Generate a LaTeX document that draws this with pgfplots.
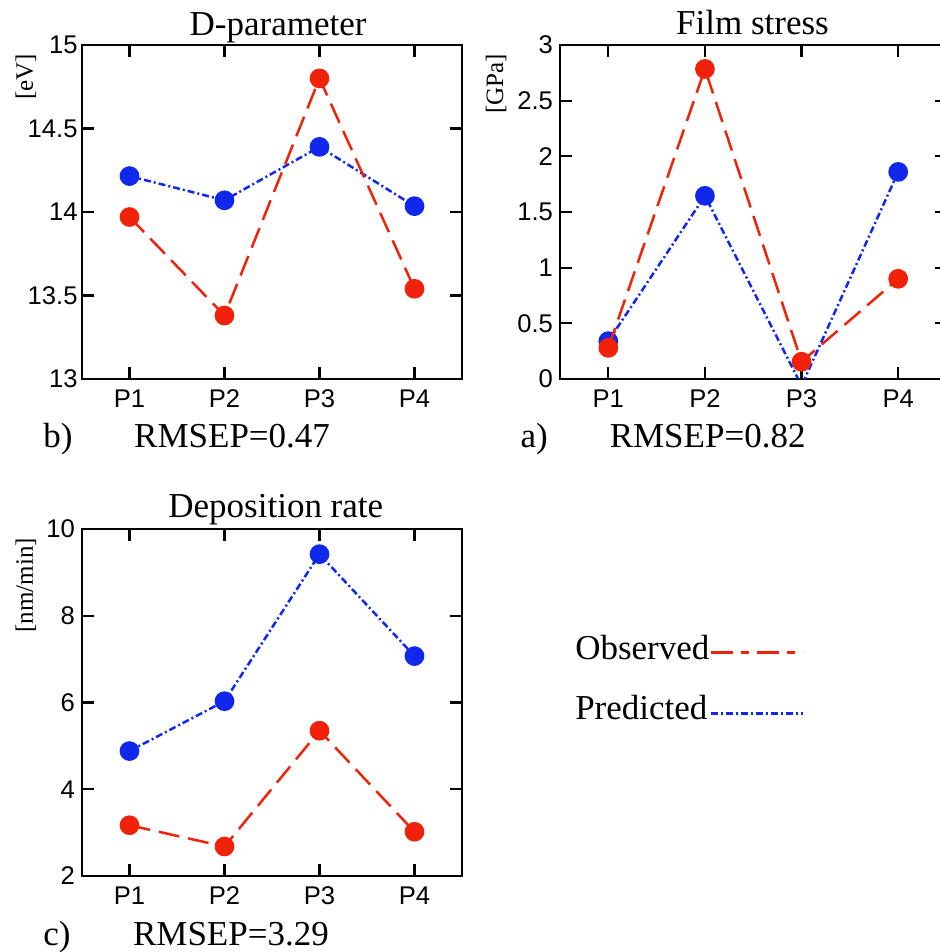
\documentclass[border=0pt]{standalone}
\usepackage{fontspec}
\setmainfont{Liberation Serif}
\setsansfont{Liberation Sans}
\usepackage{pgfplots}
\pgfplotsset{compat=1.18}

\definecolor{obsred}{RGB}{240,35,10}
\definecolor{predblue}{RGB}{15,40,235}

\newcommand{\titlefont}{\fontsize{17.5}{21}\selectfont}
\newcommand{\unitfont}{\fontsize{12.5}{15}\selectfont}

\pgfplotsset{
  panel/.style={
    scale only axis, width=190pt, height=167pt, anchor=south west,
    xmin=-0.5, xmax=3.5, xtick={0,1,2,3}, xticklabels={P1,P2,P3,P4},
    tick align=inside, tick pos=both, major tick length=6pt,
    axis line style={line width=1.2pt},
    tick style={black, line width=1.1pt},
    ticklabel style={font=\fontsize{12.8}{15}\selectfont\sffamily},
    xticklabel style={yshift=-1.8pt},
    /pgf/number format/assume math mode=true,
    clip mode=individual, clip marker paths=true,
  },
  obs/.style={obsred, line width=1.25pt, dash pattern=on 10.5pt off 4.5pt,
    mark=*, mark size=4.3pt, mark options={solid, fill=obsred, draw=obsred}},
  pred/.style={predblue, line width=1.25pt, dash pattern=on 3.5pt off 1.5pt on 1pt off 1.5pt,
    mark=*, mark size=4.3pt, mark options={solid, fill=predblue, draw=predblue}},
}

\begin{document}
\begin{tikzpicture}
% fixed page frame; the film-stress panel runs past its right edge
\path[use as bounding box, clip] (0pt,0pt) rectangle (470pt,476pt);

% D-parameter
\begin{axis}[panel, at={(41pt,286.5pt)},
  ymin=13, ymax=15, ytick={13,13.5,14,14.5,15},
  yticklabel style={xshift=1.3pt}]
  \addplot[pred] coordinates {(0,14.215) (1,14.07) (2,14.39) (3,14.035)};
  \addplot[obs] coordinates {(0,13.97) (1,13.38) (2,14.80) (3,13.54)};
  \node[font=\titlefont, anchor=base] at (rel axis cs:0.516,1.027) {D-parameter};
  \node[font=\unitfont, rotate=90, anchor=base east] at (rel axis cs:-0.129,0.994) {[eV]};
  \node[font=\titlefont, anchor=base] at (rel axis cs:-0.063,-0.204) {b)};
  \node[font=\titlefont, anchor=base] at (rel axis cs:0.395,-0.204) {RMSEP=0.47};
\end{axis}

% Film stress
\begin{axis}[panel, at={(280pt,286.5pt)}, width=193.25pt,
  ymin=0, ymax=3, ytick={0,0.5,1,1.5,2,2.5,3}]
  \addplot[pred] coordinates {(0,0.34) (1,1.645) (2,-0.06) (3,1.86)};
  \addplot[obs] coordinates {(0,0.28) (1,2.785) (2,0.155) (3,0.90)};
  \node[font=\titlefont, anchor=base] at (rel axis cs:0.498,1.03) {Film stress};
  \node[font=\unitfont, rotate=90, anchor=base east] at (rel axis cs:-0.147,0.994) {[GPa]};
  \node[font=\titlefont, anchor=base] at (rel axis cs:-0.067,-0.204) {a)};
  \node[font=\titlefont, anchor=base] at (rel axis cs:0.382,-0.204) {RMSEP=0.82};
\end{axis}

% Deposition rate
\begin{axis}[panel, at={(41pt,38pt)}, height=173.5pt,
  ymin=2, ymax=10, ytick={2,4,6,8,10},
  legend plot pos=right, legend cell align=left,
  legend style={draw=none, fill=none, at={(1.297,0.568)}, anchor=west,
    inner sep=0pt, font=\titlefont, row sep=16.8pt, column sep=0pt,
    nodes={inner sep=0pt}}]
  \addplot[pred, forget plot] coordinates {(0,4.88) (1,6.03) (2,9.42) (3,7.07)};
  \addplot[obs, forget plot] coordinates {(0,3.17) (1,2.68) (2,5.35) (3,3.02)};
  \addlegendimage{legend image code/.code={\draw[obsred, line width=1.25pt,
      dash pattern=on 11pt off 4pt on 4pt off 4pt] (0pt,-2pt) -- (46pt,-2pt);}}
  \addlegendentry{Observed}
  \addlegendimage{legend image code/.code={\draw[predblue, line width=1.25pt,
      dash pattern=on 3.5pt off 1.5pt on 1pt off 1.5pt] (0pt,-2pt) -- (46pt,-2pt);}}
  \addlegendentry{Predicted}
  \node[font=\titlefont, anchor=base] at (rel axis cs:0.51,1.032) {Deposition rate};
  \node[font=\unitfont, rotate=90, anchor=base east] at (rel axis cs:-0.129,0.994) {[nm/min]};
  \node[font=\titlefont, anchor=base] at (rel axis cs:-0.066,-0.199) {c)};
  \node[font=\titlefont, anchor=base] at (rel axis cs:0.392,-0.199) {RMSEP=3.29};
\end{axis}
\end{tikzpicture}
\end{document}
